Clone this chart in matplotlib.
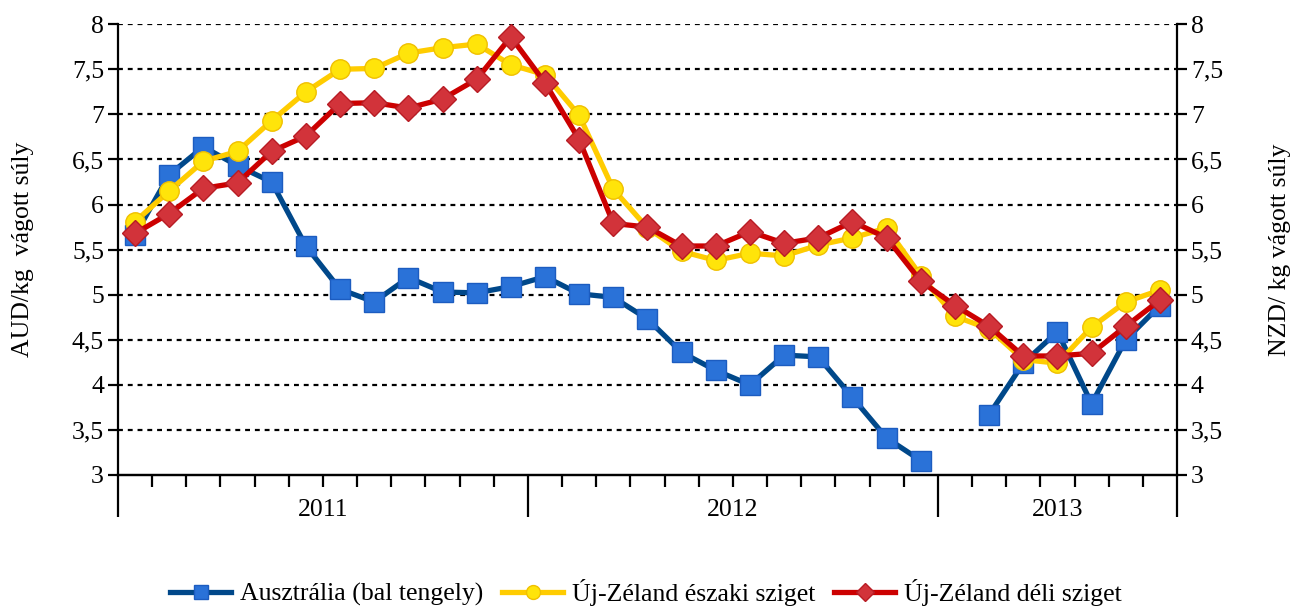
import numpy as np
import matplotlib.pyplot as plt
from matplotlib.lines import Line2D
from matplotlib.transforms import blended_transform_factory

plt.rcParams['font.family'] = ['Liberation Serif', 'DejaVu Serif']

# havi adatok 2011 jan - 2013 jul
years = ['2011', '2012', '2013']
months_per_year = [12, 12, 7]

ausztralia = [5.66, 6.33, 6.64, 6.43, 6.25, 5.54, 5.06, 4.92, 5.19, 5.03, 5.02, 5.09,
              5.20, 5.01, 4.97, 4.73, 4.36, 4.16, 4.00, 4.33, 4.31, 3.86, 3.41, 3.16,
              np.nan, 3.67, 4.24, 4.59, 3.79, 4.50, 4.88]
eszaki = [5.81, 6.15, 6.48, 6.59, 6.93, 7.25, 7.50, 7.51, 7.68, 7.74, 7.78, 7.55,
          7.44, 6.99, 6.17, 5.74, 5.48, 5.38, 5.46, 5.43, 5.55, 5.63, 5.74,
          5.21, 4.76, 4.62, 4.28, 4.24, 4.64, 4.92, 5.05]
deli = [5.68, 5.90, 6.18, 6.24, 6.59, 6.76, 7.12, 7.13, 7.07, 7.17, 7.39, 7.86,
        7.35, 6.72, 5.79, 5.75, 5.54, 5.54, 5.70, 5.57, 5.63, 5.81, 5.63,
        5.15, 4.88, 4.65, 4.32, 4.32, 4.35, 4.65, 4.94]

yticks = [3, 3.5, 4, 4.5, 5, 5.5, 6, 6.5, 7, 7.5, 8]
ytick_labels = ['3', '3,5', '4', '4,5', '5', '5,5', '6', '6,5', '7', '7,5', '8']

x = np.arange(len(eszaki))
n = len(x)
fs = 18.5

fig = plt.figure(figsize=(12.92, 6.06), dpi=100)
ax = fig.add_axes([0.0913, 0.2162, 0.8197, 0.7438])
ax2 = ax.twinx()

blue_line = '#00488a'
blue_mk = '#2a72d8'
yel_line = '#ffcc00'
yel_mk = '#ffe40a'
red_line = '#cc0000'
red_mk = '#d2333a'

ax.plot(x, ausztralia, color=blue_line, lw=3.8, marker='s', ms=14,
        mfc=blue_mk, mec='#1c5cc0', zorder=3)
ax2.plot(x, eszaki, color=yel_line, lw=3.8, marker='o', ms=14,
         mfc=yel_mk, mec='#f0c000', zorder=3)
ax2.plot(x, deli, color=red_line, lw=3.8, marker='D', ms=13,
         mfc=red_mk, mec='#b81c24', zorder=4)

for a in (ax, ax2):
    a.set_ylim(3, 8)
    a.set_xlim(-0.5, n - 0.5)
    a.set_yticks(yticks)
    a.set_yticklabels(ytick_labels, fontsize=fs)
    a.spines['top'].set_visible(False)
    for s in a.spines.values():
        s.set_linewidth(1.6)
    a.tick_params(axis='y', length=7, width=1.6, pad=3)

ax.spines['right'].set_visible(False)
ax2.spines['left'].set_visible(False)

for v in yticks[1:]:
    ax.axhline(v, color='black', lw=1.6, ls=(0, (2.2, 2.2)), zorder=1)

# honap es ev tickek
bounds = np.arange(-0.5, n, 1.0)
year_bounds = np.concatenate([[-0.5], np.cumsum(months_per_year) - 0.5])
ax.set_xticks(year_bounds)
ax.set_xticklabels([])
ax.set_xticks(bounds, minor=True)
ax.tick_params(axis='x', which='major', length=30, width=1.6)
ax.tick_params(axis='x', which='minor', length=8.5, width=1.6)
ax2.tick_params(axis='x', which='both', length=0)

trans = blended_transform_factory(ax.transData, ax.transAxes)
for i, yr in enumerate(years):
    cx = (year_bounds[i] + year_bounds[i + 1]) / 2
    ax.text(cx, -0.077, yr, transform=trans, ha='center', va='center', fontsize=fs)

ax.set_ylabel('AUD/kg  vágott súly', fontsize=fs, labelpad=27)
ax2.set_ylabel('NZD/ kg vágott súly', fontsize=fs, labelpad=33)

handles = [
    Line2D([], [], color=blue_line, lw=3.8, marker='s', ms=10, mfc=blue_mk, mec='#1c5cc0'),
    Line2D([], [], color=yel_line, lw=3.8, marker='o', ms=10, mfc=yel_mk, mec='#f0c000'),
    Line2D([], [], color=red_line, lw=3.8, marker='D', ms=9, mfc=red_mk, mec='#b81c24'),
]
labels = ['Ausztrália (bal tengely)', 'Új-Zéland északi sziget', 'Új-Zéland déli sziget']
fig.legend(handles, labels, loc='center', bbox_to_anchor=(0.5, 0.022), ncol=3,
           frameon=False, fontsize=fs, handlelength=2.35, columnspacing=0.75,
           handletextpad=0.35)

fig.savefig('out.png', dpi=100)
